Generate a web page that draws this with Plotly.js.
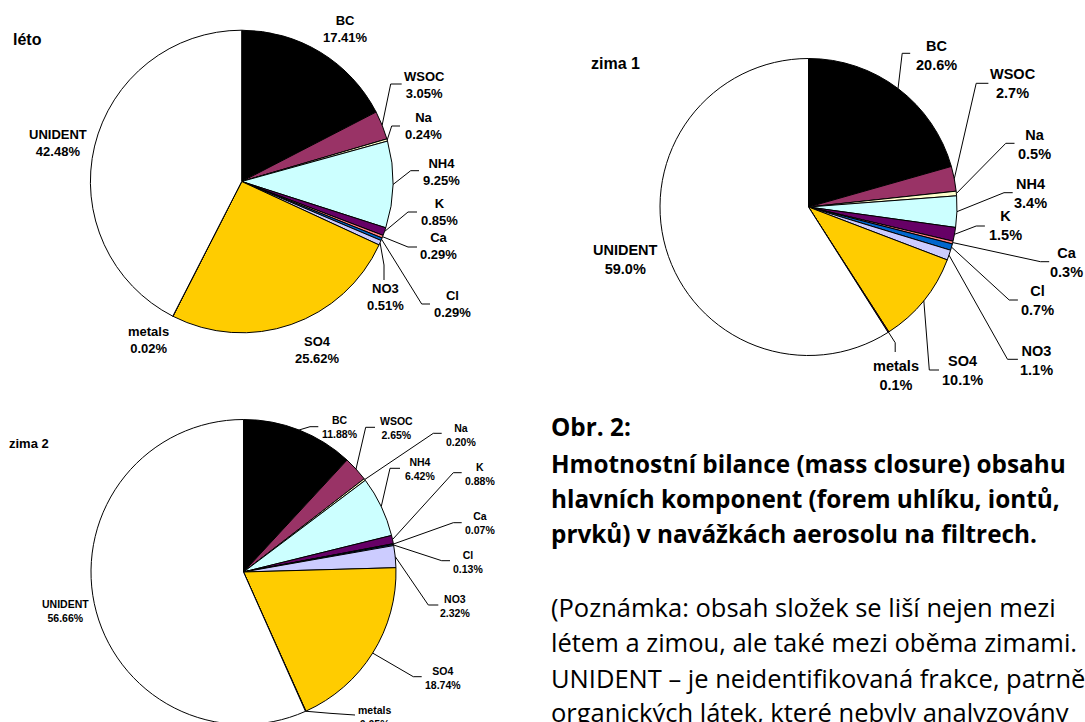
<!DOCTYPE html>
<html>
<head>
<meta charset="utf-8">
<script src="https://cdn.plot.ly/plotly-3.0.1.min.js"></script>
<style>
  html, body { margin: 0; padding: 0; overflow: hidden; background: #fff; }
  #chart { width: 1085px; height: 740px; }
</style>
</head>
<body>
<div id="chart"></div>
<script>
// ---------- DATA ----------
const categories = ['BC', 'WSOC', 'Na', 'NH4', 'K', 'Ca', 'Cl', 'NO3', 'SO4', 'metals', 'UNIDENT'];
const letoValues  = [17.41, 3.05, 0.24, 9.25, 0.85, 0.29, 0.29, 0.51, 25.62, 0.02, 42.48];
const zima1Values = [20.6, 2.7, 0.5, 3.4, 1.5, 0.3, 0.7, 1.1, 10.1, 0.1, 59.0];
const zima2Values = [11.88, 2.65, 0.20, 6.42, 0.88, 0.07, 0.13, 2.32, 18.74, 0.05, 56.66];
const pieTitles = ['léto', 'zima 1', 'zima 2'];
const captionBold = [
  'Obr. 2:',
  'Hmotnostní bilance (mass closure) obsahu',
  'hlavních komponent (forem uhlíku, iontů,',
  'prvků) v navážkách aerosolu na filtrech.'
];
const captionNote = [
  '(Poznámka: obsah složek se liší nejen mezi',
  'létem a zimou, ale také mezi oběma zimami.',
  'UNIDENT – je neidentifikovaná frakce, patrně',
  'organických látek, které nebyly analyzovány'
];

// ---------- STYLE / LAYOUT ----------
const sliceColors = ['#000000', '#993366', '#FFFFCC', '#CCFFFF', '#660066', '#FF8080',
                     '#0066CC', '#CCCCFF', '#FFCC00', '#FF00FF', '#FFFFFF'];
const W = 1085, H = 740;
const LABEL_FONT = '"Liberation Sans", Arial, sans-serif';
const TEXT_FONT = '"Open Sans", sans-serif';

// per-pie geometry (pixels) and label placement: [labelX, labelY, elbow, end]
const pies = [
  {
    values: letoValues, decimals: 2, cx: 241.7, cy: 181.5, r: 151.3, fs: 13,
    title: [11, 39, 16],
    labels: {
      BC: [346, 29.5], WSOC: [424, 85, [390.7, 84], [401.7, 84]],
      Na: [423, 126.5, [391.7, 126], [400, 126]], NH4: [441, 171.5, [410.7, 170.7], [419, 170.7]],
      K: [439, 212, [408, 212], [417, 212]], Ca: [438, 245.5, [408, 247], [417, 247]],
      Cl: [452.7, 304.5, [421.7, 304], [430, 304]], NO3: [385, 297.5, [384, 265], [384, 280]],
      SO4: [317, 349.5], metals: [148, 340], UNIDENT: [57.5, 143]
    }
  },
  {
    values: zima1Values, decimals: 1, cx: 808.5, cy: 207, r: 148.5, fs: 14.5,
    title: [588.7, 63.3, 16],
    labels: {
      BC: [936.2, 55, [902.2, 53.3], [910.2, 53.3]], WSOC: [1012.7, 83.3, [976.2, 83.3], [988.4, 83.3]],
      Na: [1034.3, 144.2, [1005.8, 143.3], [1014.5, 143.3]], NH4: [1030.8, 193.3, [1004, 192.7], [1012.7, 192.7]],
      K: [1005.8, 225.5, [976.2, 226], [984.9, 226]], Ca: [1066.6, 262.2, [1040.5, 261.7], [1049.2, 261.7]],
      Cl: [1037.7, 300.3, [1009.2, 300], [1017.9, 300]], NO3: [1036.3, 360, [1007.5, 359.3], [1017.9, 359.3]],
      SO4: [962.3, 370.7, [929.3, 370], [939, 370]], metals: [896.3, 375.5, [895.2, 342.7], [895.2, 352]],
      UNIDENT: [625.2, 259.7]
    }
  },
  {
    values: zima2Values, decimals: 2, cx: 243.5, cy: 572, r: 152.5, fs: 10.5,
    title: [6.7, 443.3, 13],
    labels: {
      BC: [340, 427.3, [310, 426.7], [318.3, 426.7]], WSOC: [396, 427.7, [365.7, 427.3], [375, 427.3]],
      Na: [460.7, 434.5, [433.3, 433.3], [441.7, 433.3]], NH4: [420, 468.8, [390, 468.3], [400, 468.3]],
      K: [480, 474.2, [453.3, 472.7], [461.7, 472.7]], Ca: [480, 523.3, [453.3, 522.7], [461.7, 522.7]],
      Cl: [468.3, 561.7, [441.7, 560.7], [450, 560.7]], NO3: [455, 606.3, [428.3, 605], [438.3, 605]],
      SO4: [442.7, 678.3, [413.3, 676.7], [421.7, 676.7]], metals: [374, 716.7, [330, 713.3], [355, 715]],
      UNIDENT: [65, 610.8]
    }
  }
];

const px = x => x / W;
const py = y => 1 - y / H;

// fit caption font size so a reference line spans its measured width
function fitSize(text, family, weight, target) {
  const ctx = document.createElement('canvas').getContext('2d');
  ctx.font = weight + ' 100px ' + family;
  const w = ctx.measureText(text).width;
  return w > 0 ? 100 * target / w : 24;
}
const boldSize = Math.min(28, Math.max(18, fitSize(captionBold[1], TEXT_FONT, 'bold', 515)));
const noteSize = Math.min(28, Math.max(18, fitSize(captionNote[0], TEXT_FONT, 'normal', 505)));

const traces = [];
const annotations = [];
const shapes = [];

pies.forEach((p, idx) => {
  traces.push({
    type: 'pie',
    labels: categories,
    values: p.values,
    sort: false,
    direction: 'clockwise',
    rotation: 0,
    textinfo: 'none',
    hoverinfo: 'label+percent',
    showlegend: false,
    marker: { colors: sliceColors, line: { color: '#000000', width: 1 } },
    domain: { x: [px(p.cx - p.r), px(p.cx + p.r)], y: [py(p.cy + p.r), py(p.cy - p.r)] }
  });
  annotations.push({
    xref: 'paper', yref: 'paper', x: px(p.title[0]), y: py(p.title[1]),
    xanchor: 'left', yanchor: 'middle', showarrow: false, text: pieTitles[idx],
    font: { family: LABEL_FONT, size: p.title[2], color: '#000', weight: 'bold' }
  });
  const total = p.values.reduce((a, b) => a + b, 0);
  let cum = 0;
  categories.forEach((cat, i) => {
    const v = p.values[i];
    const mid = (cum + v / 2) / total * 2 * Math.PI;
    cum += v;
    const L = p.labels[cat];
    if (!L) return;
    annotations.push({
      xref: 'paper', yref: 'paper', x: px(L[0]), y: py(L[1]),
      xanchor: 'center', yanchor: 'middle', showarrow: false,
      text: cat + '<br>' + v.toFixed(p.decimals) + '%',
      font: { family: LABEL_FONT, size: p.fs, color: '#000', weight: 'bold' }
    });
    if (L[2]) {
      const sx = p.cx + p.r * Math.sin(mid);
      const sy = p.cy - p.r * Math.cos(mid);
      const e = L[2], n = L[3];
      shapes.push({
        type: 'path', xref: 'paper', yref: 'paper',
        path: `M ${px(sx)} ${py(sy)} L ${px(e[0])} ${py(e[1])} L ${px(n[0])} ${py(n[1])}`,
        line: { color: '#000000', width: 1 }
      });
    }
  });
});

// caption text
const boldY = [426.7, 463.3, 498.3, 533.3];
const noteY = [606.7, 641.7, 678.3, 711.7];
captionBold.forEach((t, i) => annotations.push({
  xref: 'paper', yref: 'paper', x: px(549), y: py(boldY[i]), xanchor: 'left', yanchor: 'middle',
  showarrow: false, text: t, font: { family: TEXT_FONT, size: boldSize, color: '#000', weight: 'bold' }
}));
captionNote.forEach((t, i) => annotations.push({
  xref: 'paper', yref: 'paper', x: px(549), y: py(noteY[i]), xanchor: 'left', yanchor: 'middle',
  showarrow: false, text: t, font: { family: TEXT_FONT, size: noteSize, color: '#000' }
}));

Plotly.newPlot('chart', traces, {
  width: W, height: H,
  margin: { l: 0, r: 0, t: 0, b: 0 },
  paper_bgcolor: '#ffffff',
  showlegend: false,
  annotations: annotations,
  shapes: shapes
}, { displayModeBar: false, staticPlot: true });
</script>
</body>
</html>
